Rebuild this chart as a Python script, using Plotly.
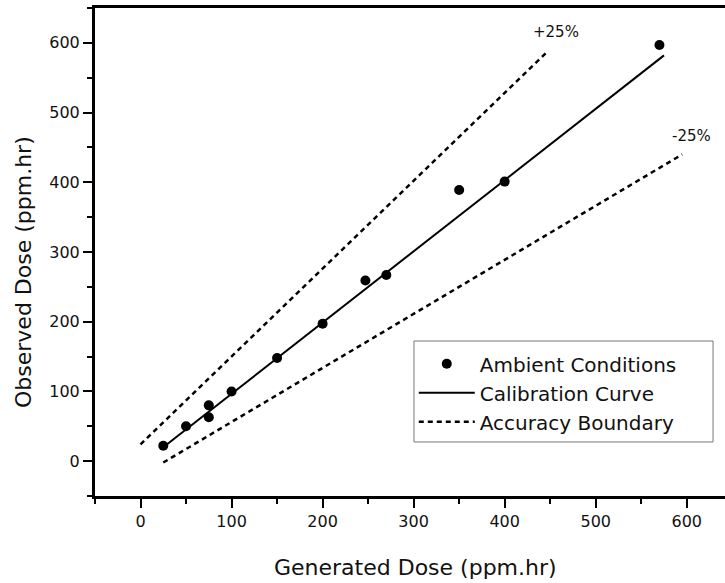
import plotly.graph_objects as go

# Observed vs generated dose (ambient conditions)
generated = [25, 50, 75, 75, 100, 150, 200, 247, 270, 350, 400, 570]
observed = [22, 50, 63, 80, 100, 148, 197, 259, 267, 389, 401, 597]

# Calibration curve (end points)
calib_x = [25, 575]
calib_y = [20, 582]

# Accuracy boundaries (+25% / -25%)
upper_x = [0, 445]
upper_y = [24, 585]
lower_x = [25, 595]
lower_y = [-2, 440]

x_ticks = [0, 100, 200, 300, 400, 500, 600]
y_ticks = [0, 100, 200, 300, 400, 500, 600]

FONT = "DejaVu Sans"
INK = "#111111"

fig = go.Figure()
fig.add_trace(go.Scatter(
    x=generated, y=observed, mode="markers", name="Ambient Conditions",
    marker=dict(color="black", size=10)))
fig.add_trace(go.Scatter(
    x=calib_x, y=calib_y, mode="lines", name="Calibration Curve",
    line=dict(color="black", width=2)))
fig.add_trace(go.Scatter(
    x=upper_x, y=upper_y, mode="lines", name="Accuracy Boundary",
    legendgroup="acc", line=dict(color="black", width=2.5, dash="5px,4px")))
fig.add_trace(go.Scatter(
    x=lower_x, y=lower_y, mode="lines", name="Accuracy Boundary",
    legendgroup="acc", showlegend=False,
    line=dict(color="black", width=2.5, dash="5px,4px")))

fig.add_annotation(x=456, y=615, text="+25%", showarrow=False,
                   font=dict(family=FONT, size=15, color=INK))
fig.add_annotation(x=605, y=467, text="-25%", showarrow=False,
                   font=dict(family=FONT, size=15, color=INK))

fig.add_annotation(xref="paper", yref="paper", x=0.5095, y=-0.1455,
                   text="Generated Dose (ppm.hr)", showarrow=False,
                   xanchor="center", yanchor="middle",
                   font=dict(family=FONT, size=22, color=INK))
fig.add_annotation(xref="paper", yref="paper", x=-0.1143, y=0.459,
                   text="Observed Dose (ppm.hr)", showarrow=False, textangle=-90,
                   xanchor="center", yanchor="middle",
                   font=dict(family=FONT, size=22, color=INK))

# legend frame (wider than plotly's auto-sized box)
fig.add_shape(type="rect", xref="paper", yref="paper",
              x0=0.5063, x1=0.981, y0=0.1107, y1=0.3176,
              line=dict(color="#777777", width=1), fillcolor="white",
              layer="below")

axis_common = dict(
    showgrid=False, zeroline=False, showline=True, linecolor="black",
    linewidth=3, ticks="outside", ticklen=9, tickwidth=2, tickcolor="black",
    tickfont=dict(family=FONT, size=16, color=INK),
)

fig.update_xaxes(range=[-50, 642], tickvals=x_ticks, mirror=True,
                 minor=dict(dtick=50, tick0=0, ticks="outside", ticklen=5,
                            tickwidth=2, tickcolor="black"),
                 **axis_common)
fig.update_yaxes(range=[-50, 650], tickvals=y_ticks, mirror=False,
                 minor=dict(dtick=50, tick0=0, ticks="outside", ticklen=5,
                            tickwidth=2, tickcolor="black"),
                 **axis_common)

fig.update_layout(
    width=725, height=583,
    margin=dict(l=95, r=0, t=8, b=87),
    paper_bgcolor="white", plot_bgcolor="white",
    font=dict(family=FONT, color=INK),
    legend=dict(x=0.506, y=0.311, xanchor="left", yanchor="top",
                bgcolor="rgba(0,0,0,0)", borderwidth=0,
                font=dict(family=FONT, size=20, color=INK),
                itemwidth=56, tracegroupgap=0),
    showlegend=True,
)

fig.write_html("out.html",
               config={"displayModeBar": False},
               post_script="document.body.style.margin='0';"
                           "document.body.style.overflow='hidden';")
